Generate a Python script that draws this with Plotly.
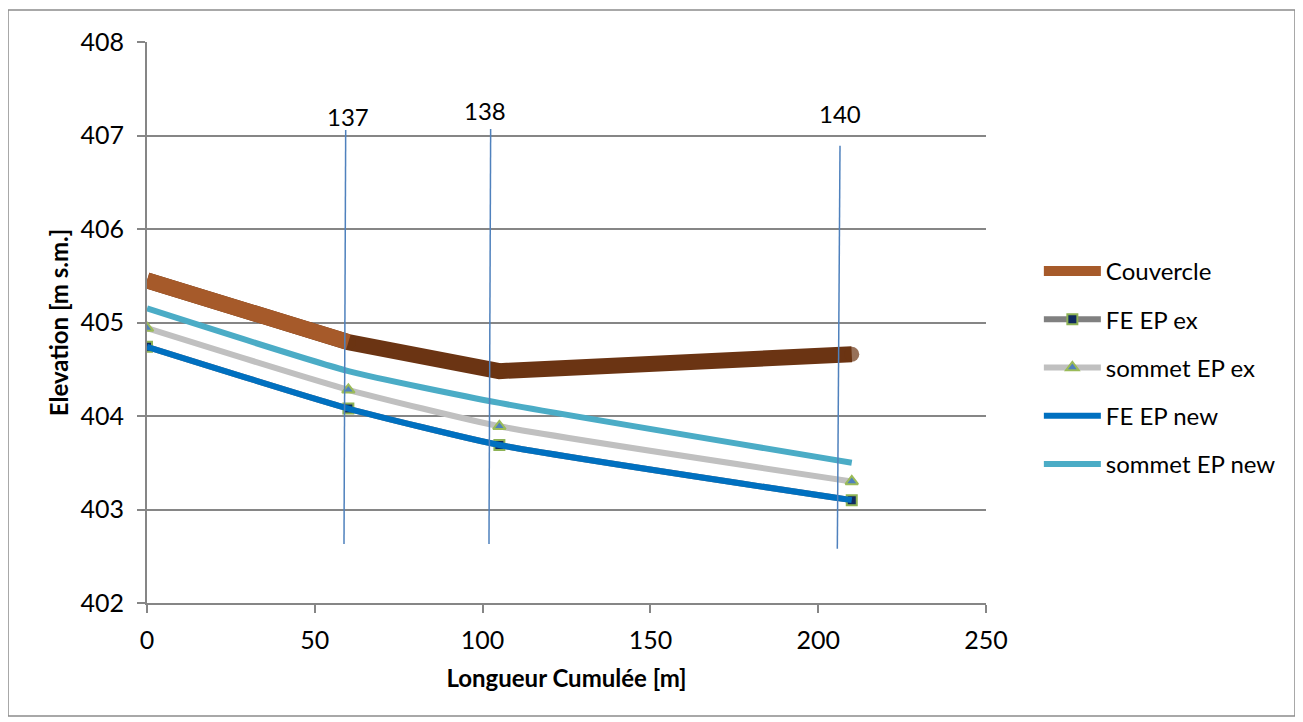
import plotly.graph_objects as go

# ---- data ----
x_len = [0, 60, 105, 210]
couvercle = [405.45, 404.79, 404.48, 404.66]
fe_ep_ex = [404.74, 404.08, 403.69, 403.10]
sommet_ep_ex = [404.94, 404.28, 403.89, 403.30]
fe_ep_new = [404.74, 404.08, 403.69, 403.10]
sommet_ep_new = [405.15, 404.48, 404.14, 403.50]

# manhole marker lines (drawn by hand in source)
mh_labels = ["137", "138", "140"]
mh_x_top = [59.2, 102.4, 206.5]
mh_x_bot = [58.7, 101.9, 205.7]
mh_y_top = [407.06, 407.07, 406.89]
mh_y_bot = [402.63, 402.63, 402.58]
mh_label_x = [59.9, 100.6, 206.6]
mh_label_y = [407.2, 407.27, 407.23]

x_ticks = [0, 50, 100, 150, 200, 250]
y_ticks = [402, 403, 404, 405, 406, 407, 408]

FONT = "Lato"
W, H = 1295, 714
L, T = 139, 34
PW, PH = 839, 561

fig = go.Figure()

# round end caps imitated by end markers
cap_sizes = [0, 15, 15, 15]
fig.add_trace(go.Scatter(x=x_len, y=couvercle, mode="lines+markers", name="Couvercle",
                         line=dict(color="#6B3413", width=16),
                         marker=dict(size=cap_sizes, color="#6B3413", line=dict(width=0)),
                         showlegend=False, legendgroup="c", hoverinfo="skip"))
fig.add_trace(go.Scatter(x=x_len[:2], y=couvercle[:2], mode="lines", name="Couvercle",
                         line=dict(color="#A65A2A", width=16), legendgroup="c"))
fig.add_trace(go.Scatter(x=x_len, y=fe_ep_ex, mode="lines+markers", name="FE EP ex",
                         line=dict(color="#808080", width=6, shape="spline", smoothing=0.5),
                         marker=dict(symbol="square", size=10, color="#0F2A5E",
                                     line=dict(color="#8DB255", width=2)),
                         legendgroup="a"))
fig.add_trace(go.Scatter(x=x_len, y=sommet_ep_ex, mode="lines+markers", name="sommet EP ex",
                         line=dict(color="#C0C0C0", width=6, shape="spline", smoothing=0.5),
                         marker=dict(symbol="triangle-up", size=11, color="#4F81BD",
                                     line=dict(color="#9BBB59", width=2)),
                         legendgroup="b"))
fig.add_trace(go.Scatter(x=x_len, y=fe_ep_new, mode="lines", name="FE EP new",
                         line=dict(color="#0070C0", width=6, shape="spline", smoothing=0.5),
                         legendgroup="d"))
fig.add_trace(go.Scatter(x=x_len, y=sommet_ep_new, mode="lines", name="sommet EP new",
                         line=dict(color="#4BACC6", width=6, shape="spline", smoothing=0.5),
                         legendgroup="e"))

shapes = []
for xt, xb, yt, yb in zip(mh_x_top, mh_x_bot, mh_y_top, mh_y_bot):
    shapes.append(dict(type="line", xref="x", yref="y", x0=xb, y0=yb, x1=xt, y1=yt,
                       line=dict(color="#4F81BD", width=1.5), layer="above"))
# outer chart border
shapes.append(dict(type="rect", xref="paper", yref="paper",
                   x0=(0 - L) / PW, x1=(1287 - L) / PW,
                   y0=(T + PH - 708) / PH, y1=(T + PH - 2) / PH,
                   line=dict(color="#8C8C8C", width=1.5), layer="below"))

annotations = []
for lab, lx, ly in zip(mh_labels, mh_label_x, mh_label_y):
    annotations.append(dict(x=lx, y=ly, xref="x", yref="y", text=lab, showarrow=False,
                            font=dict(family=FONT, size=24, color="black")))

fig.update_layout(
    width=W, height=H,
    margin=dict(l=L, r=W - L - PW, t=T, b=H - T - PH),
    paper_bgcolor="white", plot_bgcolor="white",
    font=dict(family=FONT, size=24, color="black"),
    shapes=shapes, annotations=annotations,
    legend=dict(x=1.063, y=0.631, xanchor="left", yanchor="top",
                font=dict(family=FONT, size=24, color="black"),
                tracegroupgap=14, traceorder="grouped", itemwidth=57,
                bgcolor="rgba(0,0,0,0)"),
    xaxis=dict(range=[0, 250], tickvals=x_ticks, showgrid=False, showline=True,
               linecolor="#868686", linewidth=2, ticks="outside", ticklen=8,
               tickcolor="#868686", tickwidth=2, zeroline=False,
               ticklabelstandoff=6,
               tickfont=dict(family=FONT, size=25, color="black"),
               title=dict(text="<b>Longueur Cumulée [m]</b>",
                          font=dict(family=FONT, size=24, color="black"), standoff=17)),
    yaxis=dict(range=[402, 408], tickvals=y_ticks, showgrid=True, gridcolor="#868686",
               gridwidth=2, showline=True, linecolor="#868686", linewidth=2,
               ticks="outside", ticklen=8, tickcolor="#868686", tickwidth=2,
               zeroline=False, ticklabelstandoff=8,
               tickfont=dict(family=FONT, size=25, color="black"),
               title=dict(text="<b>Elevation [m s.m.]</b>",
                          font=dict(family=FONT, size=24, color="black"), standoff=5)),
)

fig.write_html("out.html")
